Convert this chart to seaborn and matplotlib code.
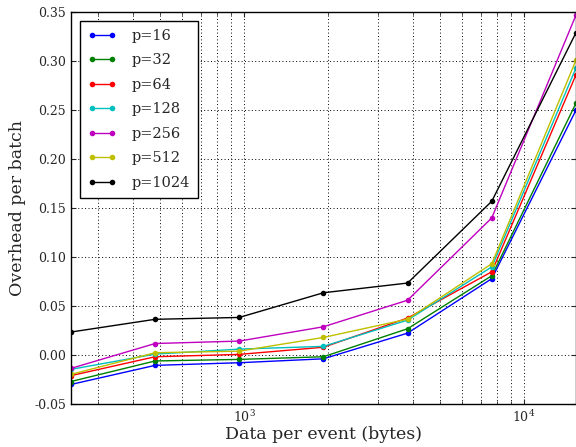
import numpy as np
import pandas as pd
import matplotlib
matplotlib.use("Agg")
import matplotlib.pyplot as plt
import seaborn as sns

# bytes per event (x) and overhead per batch for each p
data_sizes = [240, 480, 960, 1920, 3840, 7680, 15360]
p_values = [16, 32, 64, 128, 256, 512, 1024]
overhead_p16 = [-0.030, -0.0105, -0.0078, -0.0038, 0.0224, 0.078, 0.250]
overhead_p32 = [-0.027, -0.006, -0.0044, -0.0017, 0.0269, 0.081, 0.257]
overhead_p64 = [-0.021, -0.0017, 0.0007, 0.008, 0.0378, 0.085, 0.286]
overhead_p128 = [-0.0146, 0.001, 0.0061, 0.0089, 0.0357, 0.090, 0.293]
overhead_p256 = [-0.0136, 0.0118, 0.0143, 0.0289, 0.056, 0.140, 0.347]
overhead_p512 = [-0.0197, 0.0024, 0.004, 0.018, 0.0367, 0.0932, 0.301]
overhead_p1024 = [0.0235, 0.0365, 0.0384, 0.0636, 0.0735, 0.157, 0.329]

series = [overhead_p16, overhead_p32, overhead_p64, overhead_p128,
          overhead_p256, overhead_p512, overhead_p1024]
colors = ["b", "g", "r", "c", "m", "y", "k"]

rows = []
for p, vals in zip(p_values, series):
    for x, y in zip(data_sizes, vals):
        rows.append({"size": x, "overhead": y, "p": f"p={p}"})
df = pd.DataFrame(rows)

sns.set_style("ticks")
plt.rcParams["font.family"] = ["DejaVu Serif"]
plt.rcParams["mathtext.fontset"] = "dejavuserif"
plt.rcParams["legend.numpoints"] = 2

fig = plt.figure(figsize=(5.76, 4.47), dpi=100)
ax = fig.add_axes([0.123, 0.096, 0.877, 0.877])

sns.lineplot(data=df, x="size", y="overhead", hue="p", palette=colors,
             marker="o", markersize=4, markeredgewidth=0, linewidth=1,
             ax=ax, legend=True)

ax.set_xscale("log")
ax.set_xlim(240, 15360)
ax.set_ylim(-0.05, 0.35)
ax.set_yticks(np.arange(-0.05, 0.351, 0.05))
ax.yaxis.set_major_formatter(matplotlib.ticker.FormatStrFormatter("%.2f"))
ax.xaxis.set_minor_formatter(matplotlib.ticker.NullFormatter())

ax.grid(True, which="major", linestyle=(0, (1, 2.5)), color="k", linewidth=0.7)
ax.grid(True, which="minor", axis="x", linestyle=(0, (1, 2.5)), color="k", linewidth=0.7)
ax.tick_params(which="both", direction="in", top=True, right=True, labelsize=9)

ax.set_xlabel("Data per event (bytes)", fontsize=12.5, labelpad=1)
ax.set_ylabel("Overhead per batch", fontsize=12.5, labelpad=6)

handles, labels = ax.get_legend_handles_labels()
leg = ax.legend(handles, labels, loc="upper left", fontsize=10.5,
                fancybox=False, framealpha=1, edgecolor="k",
                handlelength=2.0, handletextpad=1.0, borderpad=0.55,
                labelspacing=0.72, borderaxespad=0.6)
leg.get_frame().set_linewidth(1)

for s in ax.spines.values():
    s.set_color("k")
    s.set_linewidth(1)

fig.savefig("out.png", dpi=100)
